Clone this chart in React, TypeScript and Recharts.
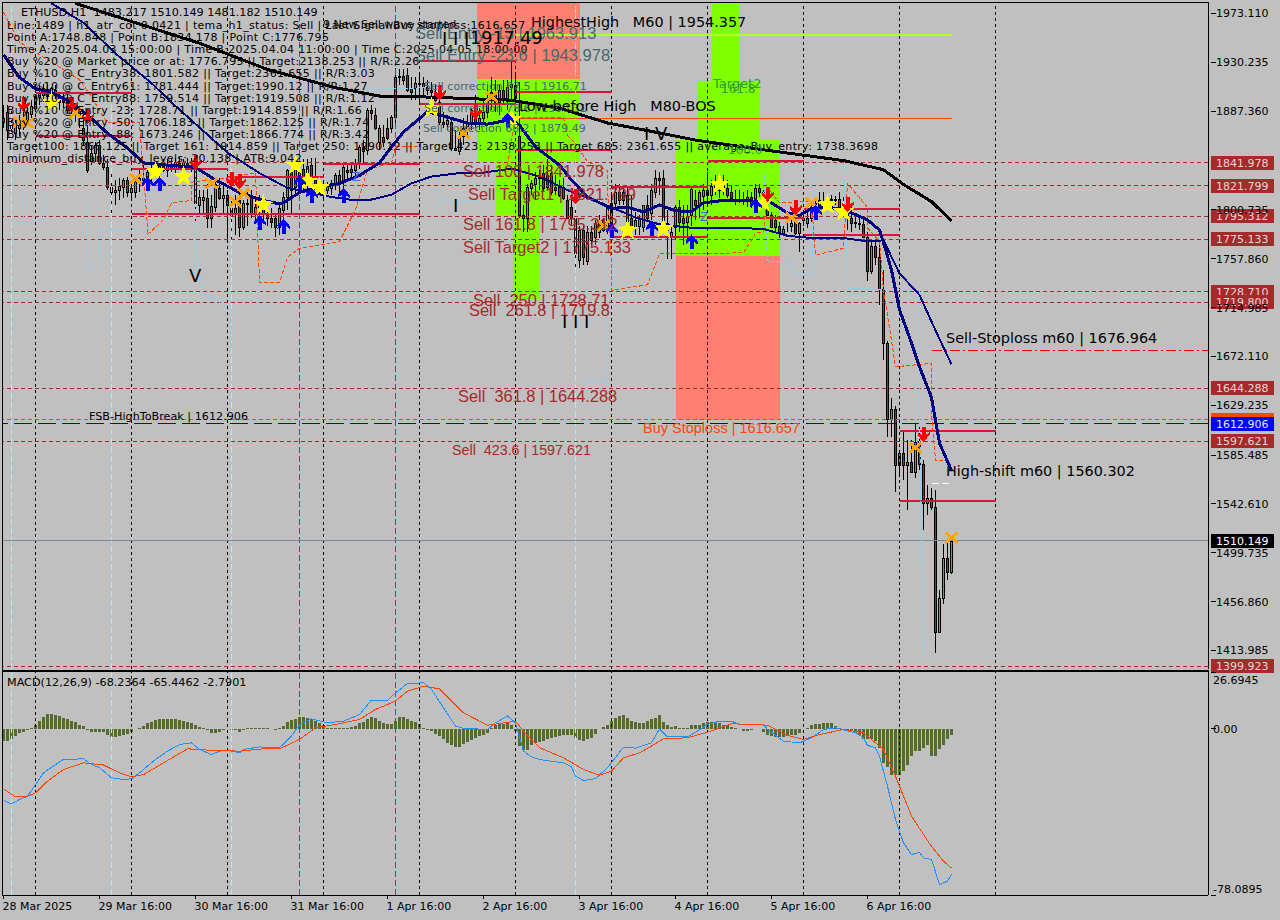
import React from "react";
import { Bar, ComposedChart, Line, ReferenceArea, ReferenceLine, Scatter, XAxis, YAxis } from "recharts";

// ETHUSD H1 candles, one entry per bar
const opens = [
  1881,1887,1873,1868,1873,1875,1880,1885,1890,1900,
  1902,1906,1901,1906,1902,1895,1895,1888,1890,1885,
  1873,1860,1844,1851,1858,1842,1838,1821,1816,1818,
  1821,1827,1816,1816,1827,1829,1829,1834,1837,1835,
  1839,1836,1840,1837,1842,1839,1842,1839,1837,1805,
  1809,1811,1794,1803,1820,1811,1814,1802,1797,1809,
  1786,1807,1812,1798,1803,1808,1797,1794,1794,1786,
  1801,1812,1836,1821,1821,1837,1839,1840,1827,1821,
  1820,1818,1820,1823,1831,1825,1836,1837,1836,1842,
  1856,1853,1888,1884,1860,1865,1873,1873,1882,1917,
  1918,1919,1908,1908,1911,1912,1909,1906,1904,1895,
  1878,1876,1878,1855,1852,1866,1873,1878,1888,1877,
  1881,1887,1899,1904,1895,1906,1899,1909,1910,1866,
  1796,1794,1820,1823,1829,1833,1831,1833,1821,1821,
  1821,1809,1803,1794,1757,1783,1756,1781,1777,1789,
  1783,1783,1789,1807,1816,1816,1814,1794,1786,1787,
  1786,1805,1798,1816,1829,1829,1789,1777,1786,1803,
  1794,1790,1796,1809,1806,1813,1818,1814,1822,1818,
  1824,1820,1816,1810,1810,1809,1809,1812,1811,1820,
  1812,1802,1796,1792,1787,1780,1785,1787,1790,1780,
  1792,1789,1794,1801,1805,1809,1809,1809,1809,1810,
  1805,1803,1794,1790,1789,1788,1777,1747,1769,1759,
  1731,1684,1617,1626,1577,1587,1577,1579,1571,1597,
  1578,1543,1548,1540,1430,1460,1495,1483.217,
];
const highs = [
  1893,1893,1888,1880,1884,1890,1893,1897,1902,1910,
  1911,1911,1909,1910,1904,1904,1902,1897,1893,1892,
  1887,1875,1858,1860,1862,1849,1845,1834,1827,1829,
  1829,1830,1827,1827,1836,1840,1837,1842,1843,1842,
  1845,1845,1846,1846,1847,1845,1846,1846,1840,1818,
  1818,1823,1814,1825,1829,1823,1818,1814,1814,1818,
  1809,1816,1818,1811,1814,1814,1805,1802,1796,1805,
  1816,1837,1840,1845,1846,1845,1845,1846,1846,1827,
  1824,1825,1827,1833,1836,1840,1840,1842,1845,1858,
  1862,1890,1893,1890,1875,1875,1881,1884,1925,1924,
  1924,1925,1917,1917,1919,1917,1915,1913,1910,1908,
  1887,1884,1880,1871,1873,1881,1884,1890,1902,1890,
  1897,1910,1917,1915,1910,1915,1915,1932,1919,1913,
  1805,1823,1827,1834,1836,1840,1845,1840,1831,1827,
  1829,1814,1814,1809,1787,1787,1787,1787,1792,1796,
  1794,1805,1814,1823,1823,1820,1820,1814,1799,1796,
  1805,1814,1823,1836,1834,1836,1801,1787,1805,1809,
  1805,1805,1820,1818,1818,1823,1834,1827,1831,1829,
  1831,1827,1822,1818,1818,1816,1818,1816,1823,1823,
  1818,1814,1799,1796,1790,1787,1790,1792,1794,1790,
  1799,1799,1805,1809,1816,1816,1814,1814,1813,1816,
  1812,1809,1805,1796,1794,1795,1781,1774,1774,1774,
  1748,1686,1636,1629,1590,1607,1599,1599,1614,1614,
  1581,1559,1557,1555,1467,1507,1511,1510.149,
];
const lows = [
  1873,1862,1866,1862,1866,1871,1875,1880,1887,1893,
  1895,1897,1894,1897,1888,1890,1885,1881,1878,1873,
  1858,1833,1840,1843,1840,1836,1818,1796,1805,1809,
  1811,1812,1811,1811,1816,1823,1823,1825,1831,1830,
  1834,1830,1834,1831,1836,1834,1836,1834,1789,1796,
  1796,1785,1785,1799,1809,1796,1774,1774,1779,1777,
  1783,1787,1794,1792,1796,1792,1787,1785,1777,1779,
  1787,1801,1798,1814,1816,1818,1818,1818,1818,1815,
  1811,1815,1814,1818,1816,1818,1827,1829,1831,1837,
  1842,1849,1880,1871,1853,1856,1862,1868,1875,1910,
  1910,1904,1897,1897,1895,1902,1902,1893,1895,1875,
  1873,1871,1852,1852,1849,1858,1866,1871,1873,1871,
  1875,1881,1888,1887,1884,1893,1888,1897,1895,1794,
  1781,1781,1814,1809,1818,1816,1818,1814,1814,1812,
  1809,1794,1787,1748,1750,1752,1752,1770,1770,1776,
  1781,1779,1787,1801,1805,1805,1781,1779,1779,1779,
  1781,1792,1792,1811,1814,1785,1758,1758,1774,1781,
  1770,1774,1787,1792,1794,1801,1809,1805,1814,1811,
  1814,1811,1809,1805,1807,1805,1803,1802,1809,1812,
  1807,1796,1785,1781,1776,1779,1781,1781,1779,1764,
  1787,1785,1790,1794,1801,1805,1801,1805,1805,1799,
  1796,1783,1781,1785,1783,1777,1738,1744,1752,1717,
  1669,1601,1601,1553,1568,1564,1537,1571,1565,1572,
  1520,1533,1537,1412,1430,1455,1476,1481.182,
];
const closes = [
  1878,1871,1875,1875,1878,1881,1887,1892,1901,1904,
  1908,1901,1908,1902,1895,1897,1888,1892,1885,1888,
  1862,1836,1851,1858,1842,1838,1821,1816,1818,1822,
  1827,1816,1820,1826,1829,1827,1834,1837,1834,1839,
  1836,1840,1837,1843,1839,1843,1840,1837,1807,1812,
  1812,1794,1804,1823,1811,1814,1805,1796,1802,1786,
  1807,1806,1798,1803,1809,1797,1794,1790,1786,1802,
  1812,1836,1818,1840,1836,1823,1823,1827,1823,1823,
  1821,1822,1823,1831,1823,1838,1834,1834,1842,1856,
  1852,1888,1886,1873,1873,1860,1864,1882,1917,1918,
  1915,1906,1904,1912,1912,1909,1906,1904,1897,1878,
  1876,1880,1855,1853,1866,1873,1878,1888,1877,1881,
  1887,1899,1904,1895,1906,1899,1909,1911,1899,1796,
  1794,1821,1824,1829,1830,1820,1821,1816,1818,1814,
  1811,1794,1794,1763,1783,1759,1781,1774,1789,1781,
  1792,1802,1807,1816,1809,1809,1786,1786,1792,1794,
  1805,1794,1818,1829,1827,1787,1783,1781,1803,1790,
  1789,1795,1819,1805,1816,1818,1814,1822,1818,1824,
  1820,1814,1811,1809,1809,1809,1812,1807,1820,1816,
  1816,1796,1786,1786,1780,1784,1785,1789,1780,1789,
  1794,1794,1801,1807,1809,1809,1809,1810,1810,1802,
  1803,1796,1789,1789,1788,1777,1747,1769,1759,1731,
  1684,1617,1626,1577,1587,1577,1579,1571,1597,1578,
  1543,1548,1540,1430,1460,1495,1483,1510.149,
];

// MACD histogram, one entry per bar
const histogram = [
  -5.8,-5.8,-4.7,-3.4,-2.2,-1.6,-0.6,0.4,1.8,3.8,
  5.5,7,7,6.5,6,5.2,4.4,3.6,3.1,2,
  1.2,-0.4,-1.6,-1.4,-1.6,-1.5,-3,-4,-4,-3.5,
  -3,-2.3,-1.6,-0.3,0.5,1.2,2.5,3.3,4,4.5,
  4.7,4.7,4.7,4.6,4.2,3.6,3.1,2.6,1.8,1,
  0.4,-0.6,-2,-2.2,-1.3,-0.5,-0.3,-0.4,-0.5,-1.6,
  -0.5,0.5,0.6,0.5,0.5,0.4,0.4,0,-0.6,0.2,
  1.5,3,4,4.8,5.4,5.6,5.2,4.8,3.8,2.8,
  1.8,0.3,0.3,0.3,0.4,0.5,0.6,0.8,1.5,2.5,
  3.3,4.5,5.6,5,3.8,2.8,2.4,2.4,3.8,5.4,
  5.6,4.8,3.8,3,2.2,0.6,-0.4,-1,-2.4,-3.5,
  -5,-6.5,-7.8,-8.6,-8.4,-7,-6,-5.2,-4.2,-3.4,
  -3,-2,0.6,2,2.2,2.4,3,2,-1,-8,
  -10,-10,-7.4,-6.8,-6.2,-5.8,-4.7,-4.4,-4,-3.4,
  -2.7,-2.9,-3.1,-4.4,-5.3,-5.8,-5,-4.2,-2.5,-0.3,
  1,2,3.8,5.2,5.8,6.3,5,3.6,3.1,2.8,
  2.8,3.6,4.7,5.2,6.3,3.1,1.6,0.8,1.2,0.2,
  0.2,0.5,2,2,2,2.8,3.3,3.4,3.1,2.8,
  2,1.6,0.8,0.2,-0.3,-0.8,-0.8,-0.6,-0.3,-0.3,
  -1.6,-3.1,-3.4,-4,-4,-4,-3.4,-3.1,-2.7,-1.9,
  -0.3,0.5,1.6,2.4,2.4,2.5,2.5,2.5,1.2,0.5,
  0,-0.6,-1.1,-1.9,-2.7,-5,-4.7,-5,-5.8,-9,
  -16,-18,-21.8,-21.8,-21.5,-19.6,-17.2,-12.9,-10.5,-10.5,
  -8.9,-7.4,-12.9,-12.9,-9.7,-7.4,-5,-2.79,
];

// line vertices: bar number + value
const macdBars = [0,2,4,6,8,10,13,15,20,22,24,27,30,32,34,38,41,44,47,49,52,54,56,59,60,64,67,69,72,74,77,81,85,89,92,96,98,101,105,107,110,113,115,121,123,126,128,130,132,134,140,142,143,145,148,151,155,158,162,164,166,171,173,176,179,182,184,190,191,195,199,202,205,208,213,215,216,218,219,221,223,225,227,229,230,232,234,236,237];
const macdValues = [-33.7,-35.3,-33.2,-31.7,-26.2,-20.7,-16.8,-14.4,-14.1,-16.8,-18.3,-23,-23.8,-23.5,-20.7,-14.4,-10.5,-7.4,-6.6,-9.7,-12.1,-10.5,-10,-11.3,-9.7,-8.5,-8.9,-8.9,-3.4,2,4.7,2.8,3.6,6.7,13.5,13.3,16.9,21.3,21.6,18.5,9.9,1.3,0.2,-0.3,2.8,6,2.8,-10.5,-13.2,-14.4,-16,-17.9,-22.3,-24.3,-23.4,-18.3,-8.6,-9.1,-6.6,0,-3.8,-3.8,-1.6,2,3.6,3.6,2,2,-0.3,-5.8,-6.6,-4.2,-0.3,0.5,-1.9,-4.2,-7.8,-8.9,-12.9,-27,-42.6,-53.6,-59.1,-58,-60.7,-61.4,-73.2,-71.6,-68.2364];
const signalBars = [0,3,6,8,11,15,20,25,29,32,35,40,46,51,59,65,69,74,78,84,89,93,98,101,105,109,115,121,128,130,134,140,145,149,152,155,159,162,165,171,176,182,191,196,200,204,210,215,220,223,227,230,232,235,237];
const signalValues = [-28.2,-32,-31.7,-30.1,-24.6,-19.1,-16,-17,-20.7,-22.6,-21.5,-16,-9.4,-10,-10.5,-9.4,-9.4,-5,0.5,2.4,4.4,9.1,13,17.7,20,18.8,7.5,1.7,3.6,-1.1,-8.9,-13.6,-19.1,-21.8,-19.9,-13.6,-11.3,-8.1,-4.7,-4.2,-1.6,2.4,1.7,-3.1,-5,-2.7,-0.3,-1.9,-9.7,-22.3,-41,-49.7,-55.2,-62.2,-65.4462];

const emaFastBars = [0,4,8,12,17,21,26,31,35,41,48,53,59,65,69,70,74,79,84,89,94,97,100,106,111,116,121,127,129,133,139,142,146,152,156,160,164,168,172,175,180,187,191,196,199,202,206,210,216,219,220,222,224,227,229,232,233,234,237];
const emaFastValues = [1937,1917,1907,1904,1895,1884,1868,1855,1842,1840,1838,1827,1816,1809,1806,1807,1816,1821,1824,1831,1842,1856,1869,1887,1882,1877,1876,1880,1875,1856,1840,1827,1812,1802,1803,1799,1805,1800,1799,1807,1809,1809,1809,1798,1796,1802,1803,1801,1792,1783,1772,1748,1713,1684,1663,1636,1616,1596,1572];
const emaSlowBars = [12,20,28,37,42,49,56,64,71,77,82,88,91,97,102,107,114,119,127,134,141,152,158,164,172,182,190,196,202,210,216,220,224,229,233,237];
const emaSlowValues = [1982,1965,1938,1912,1895,1873,1851,1833,1820,1816,1812,1809,1809,1814,1824,1830,1833,1833,1837,1830,1818,1803,1794,1788,1785,1785,1784,1778,1776,1776,1773,1774,1745,1726,1695,1665];
const trendBars = [18,33,49,66,83,95,104,127,139,151,160,173,191,210,220,225,232,237];
const trendValues = [1982,1965,1947,1924,1908,1900,1900,1897,1890,1877,1871,1862,1853,1844,1836,1823,1808,1791];

const bandBars = [0,4,19,22,24,26,34,36,36,40,42,47,47,52,63,64,69,71,74,84,88,91,97,98,104,104,126,128,140,141,143,146,151,151,152,152,161,164,185,188,190,191,194,202,203,210,211,216,216,219,220,222,223,232,232,233,236];
const bandValues = [1974,1948,1915,1900,1888,1877,1877,1786,1779,1792,1807,1809,1825,1827,1833,1737,1737,1759,1767,1773,1801,1836,1842,1856,1856,null,1840,1882,1882,1866,1859,1843,1835,1822,1752,1730,1735,1762,1763,1780,1782,1820,1807,1808,1761,1767,1824,1803,1785,1773,1730,1686,1663,1666,1622,1581,1581];
const shadowBars = [5,5,10,10,10,21,21,24,24,25,36,36,36,48,48,50,57,57,57,64,64,64,85,85,107,107,109,109,119,119,143,143,143,145,151,151,151,190,190,191,197,198,202,203,203,210,211,229,229,230];
const shadowValues = [1838,1790,1792,1847,null,1809,1750,1750,1774,1783,1783,1827,null,1838,1751,1728,1713,1678,null,1735,1713,null,1896,1906,1908,null,1873,1808,1808,null,1980,1840,null,1650,1650,1739,1840,null,1842,1756,1755,1744,1745,1853,null,1842,1732,1730,1622,1408];

const stars = [[12,1895],[38,1834],[45,1830],[65,1805],[73,1840],[76,1826],[79,1820],[107,1890],[127,1880],[156,1783],[165,1784],[179,1823],[190,1807],[206,1805],[210,1799]];
const crosses = [[4,1878],[6,1877],[18,1886],[33,1828],[52,1824],[60,1815],[58,1808],[115,1868],[122,1900],[150,1787],[197,1794],[202,1807],[228,1592],[237,1513]];
const sellArrows = [[5,1893],[17,1893],[21,1882],[48,1842],[57,1827],[59,1825],[109,1903],[118,1886],[143,1812],[191,1814],[198,1802],[211,1805],[230,1603]];
const buyArrows = [[36,1824],[39,1824],[64,1790],[70,1787],[77,1814],[85,1814],[74,1825],[126,1880],[152,1783],[162,1785],[172,1773],[188,1805],[203,1799]];

// period high/low segments: from bar, to bar, price
const segments = [[8,32,1903],[8,32,1866],[32,56,1837],[32,104,1797],[56,80,1830],[80,104,1841],[104,128,1931],[104,128,1894],[128,152,1904],[128,152,1853],[152,176,1821],[152,176,1777],[176,200,1844],[176,200,1794],[200,224,1801.5],[200,224,1779],[224,248,1607],[224,248,1545]];

const salmonZones = [[118.25,144,1916,1985],[168,194,1616.657,1760]];
const limeZones = [[118.25,144,1844,1916],[123,140,1796,1844],[127.25,134,1722,1796],[177,184,1914,1985],[173.25,189,1862,1914],[168,194,1760,1862]];

const priceTicks = [1973.11,1930.235,1887.36,1800.735,1757.86,1714.985,1672.11,1629.235,1585.485,1542.61,1499.735,1456.86,1413.985];
const sellLevels = [1841.978,1821.799,1795.312,1775.133,1728.71,1719.8,1644.288,1597.621,1399.923];
const macdTicks = [26.6945,0,-78.0895];
const timeBars = [0,24,48,72,96,120,144,168,192,216];
const timeLabels = ["28 Mar 2025","29 Mar 16:00","30 Mar 16:00","31 Mar 16:00","1 Apr 16:00","2 Apr 16:00","3 Apr 16:00","4 Apr 16:00","5 Apr 16:00","6 Apr 16:00"];
const gridBars = [8,32,56,80,104,128,152,176,200,224,248];
const magentaBars = [74,98];
const paleBars = [2,27,57,143];

const infoLines = [
  "Line:1489 | h1_atr_cot 0.0421 | tema_h1_status: Sell | Last Signal:Buy stoploss:1616.657",
  "Point A:1748.848 | Point B:1834.178 | Point C:1776.795",
  "Time A:2025.04.03 15:00:00 | Time B:2025.04.04 11:00:00 | Time C:2025.04.05 18:00:00",
  "Buy %20 @ Market price or at: 1776.795 || Target:2138.253 || R/R:2.26",
  "Buy %10 @ C_Entry38: 1801.582 || Target:2361.655 || R/R:3.03",
  "Buy %10 @ C_Entry61: 1781.444 || Target:1990.12 || R/R:1.27",
  "Buy %10 @ C_Entry88: 1759.514 || Target:1919.508 || R/R:1.12",
  "Buy %10 @ Entry -23: 1728.71 || Target:1914.859 || R/R:1.66",
  "Buy %20 @ Entry -50: 1706.183 || Target:1862.125 || R/R:1.74",
  "Buy %20 @ Entry -88: 1673.246 || Target:1866.774 || R/R:3.42",
  "Target100: 1866.125 || Target 161: 1914.859 || Target 250: 1990.12 || Target 423: 2138.253 || Target 685: 2361.655 || average_Buy_entry: 1738.3698",
  "minimum_distance_buy_levels: 20.138 | ATR:9.042",
];

const TAHOMA = "'DejaVu Sans'";
const ARIAL = "'Liberation Sans'";
const BROWN = "#a52a2a";
const SLATE = "#47686b";

// text, left, middle, size, colour, font
const notes: [string, number, number, number, string, string][] = [
  ["ETHUSD,H1  1483.217 1510.149 1481.182 1510.149", 21, 12, 11.2, "#000", TAHOMA],
  ["9 New Sell wave started", 323, 24, 11, "#000", TAHOMA],
  ["Sell Entry -13 | 1963.913", 415, 33, 16.5, SLATE, ARIAL],
  ["Sell Entry -23.6 | 1943.978", 415, 55, 16.5, SLATE, ARIAL],
  ["I I I", 442, 38, 18, "#000", TAHOMA],
  ["1917.49", 470, 38, 17.6, "#000", TAHOMA],
  ["HighestHigh   M60 | 1954.357", 531, 22, 14.4, "#000", TAHOMA],
  ["Sell correction 87.5 | 1916.71", 424, 86, 11, SLATE, TAHOMA],
  ["Sell correction 78.6 | 1900.31", 424, 108, 11, SLATE, TAHOMA],
  ["Sell correction 68.2 | 1879.49", 423, 128, 11, SLATE, TAHOMA],
  ["Low-before High   M80-BOS", 519, 106, 14.4, "#000", TAHOMA],
  ["Target2", 713, 83, 13, "#2e9e2e", TAHOMA],
  ["161.8", 721, 89, 12, "#2e9e2e", TAHOMA],
  ["100.0", 728, 150, 12, "#2e9e2e", TAHOMA],
  ["Z", 352, 177, 12, "#4169e1", TAHOMA],
  ["Z", 700, 217, 12, "#4169e1", TAHOMA],
  ["Sell 100 | 1841.978", 463, 171, 16.4, BROWN, ARIAL],
  ["Sell Target1 | 1821.799", 468, 194, 16.4, BROWN, ARIAL],
  ["Sell 161.8 | 1795.312", 463, 224, 16.4, BROWN, ARIAL],
  ["Sell Target2 | 1775.133", 463, 247, 16.4, BROWN, ARIAL],
  ["Sell  250 | 1728.71", 473, 300, 16.4, BROWN, ARIAL],
  ["Sell  261.8 | 1719.8", 469, 310, 16.4, BROWN, ARIAL],
  ["Sell  361.8 | 1644.288", 458, 396, 16.4, BROWN, ARIAL],
  ["Sell  423.6 | 1597.621", 452, 450, 14.3, BROWN, ARIAL],
  ["Buy Stoploss | 1616.657", 643, 428, 14.5, "#ff4500", ARIAL],
  ["FSB-HighToBreak | 1612.906", 89, 416, 11.2, "#000", TAHOMA],
  ["Sell-Stoploss m60 | 1676.964", 946, 338, 14.4, "#000", TAHOMA],
  ["High-shift m60 | 1560.302", 946, 471, 14.4, "#000", TAHOMA],
  ["V", 189, 275, 18, "#000", TAHOMA],
  ["I", 453, 205, 18, "#000", TAHOMA],
  ["I I I", 562, 321, 18, "#000", TAHOMA],
  ["I V", 644, 133, 18, "#000", TAHOMA],
  ["MACD(12,26,9) -68.2364 -65.4462 -2.7901", 7, 682, 11.2, "#000", TAHOMA],
];

const rows = opens.map((o, i) => ({ i, o, h: highs[i], l: lows[i], c: closes[i], m: histogram[i] }));
const vertices = (bars: number[], values: (number | null)[]) => bars.map((i, k) => ({ i, v: values[k] }));
const marks = (list: number[][]) => list.map(([i, v]) => ({ i, v }));

const X_DOMAIN: [number, number] = [-0.375, 301.125];
const PRICE_DOMAIN: [number, number] = [1397.7, 1983.2];

function Candle(props: any) {
  const { x, y, width, height, payload } = props;
  const { o, h, l, c } = payload;
  const at = (p: number) => y + ((h - p) / (h - l)) * height;
  const mid = Math.floor(x + width / 2) + 0.5;
  const top = Math.round(at(Math.max(o, c))) + 0.5;
  const bottom = Math.round(at(Math.min(o, c))) + 0.5;
  return (
    <g>
      <line x1={mid} x2={mid} y1={y} y2={y + height} stroke="#000" />
      <rect x={mid - 1} y={top} width={2} height={Math.max(bottom - top, 0)} fill={c >= o ? "#3cb371" : "#c8143c"} stroke="#000" />
    </g>
  );
}

function Star({ cx, cy }: any) {
  const pts = [];
  for (let k = 0; k < 10; k++) {
    const r = k % 2 ? 4.5 : 11;
    const a = (Math.PI * k) / 5 - Math.PI / 2;
    pts.push(`${cx + r * Math.cos(a)},${cy + r * Math.sin(a)}`);
  }
  return <polygon points={pts.join(" ")} fill="#ffff00" />;
}

function Cross({ cx, cy }: any) {
  return (
    <g stroke="#ffa500" strokeWidth={3}>
      <line x1={cx - 6} x2={cx + 6} y1={cy - 5} y2={cy + 5} />
      <line x1={cx - 6} x2={cx + 6} y1={cy + 5} y2={cy - 5} />
    </g>
  );
}

function DownArrow({ cx, cy }: any) {
  return <path d={`M${cx - 2},${cy - 8}h4v8l4,-3v3l-6,7l-6,-7v-3l4,3z`} fill="#ff0000" />;
}

function UpArrow({ cx, cy }: any) {
  return <path d={`M${cx - 2},${cy + 8}h4v-8l4,3v-3l-6,-7l-6,7v3l4,-3z`} fill="#0000ff" />;
}

function PriceTick({ x, y, payload }: any) {
  return (
    <g>
      <line x1={x - 5} x2={x} y1={y} y2={y} stroke="#000" />
      <text x={1216} y={y + 4} fontFamily={TAHOMA} fontSize={11} fill="#000">{payload.value.toFixed(3)}</text>
    </g>
  );
}

function MacdTick({ x, y, payload }: any) {
  const v = payload.value;
  const shift = v > 1 ? 8 : v < -1 ? -6 : 0;
  return (
    <g>
      <line x1={x - 5} x2={x} y1={y} y2={y} stroke="#000" />
      <text x={1213} y={y + 4 + shift} fontFamily={TAHOMA} fontSize={11} fill="#000">
        {v === 0 ? "0.00" : v.toFixed(4)}
      </text>
    </g>
  );
}

function TimeTick({ x, y, payload }: any) {
  return (
    <g>
      <line x1={x} x2={x} y1={y - 8} y2={y - 4} stroke="#000" />
      <text x={x - 1} y={y + 7} fontFamily={TAHOMA} fontSize={11} fill="#000">
        {timeLabels[timeBars.indexOf(payload.value)]}
      </text>
    </g>
  );
}

const priceTag = (value: number, fill: string, color: string) => (p: any) => (
  <g>
    <rect x={1211} y={p.viewBox.y - 7} width={63} height={14} fill={fill} />
    <text x={1216} y={p.viewBox.y + 4} fontFamily={TAHOMA} fontSize={11} fill={color}>{value.toFixed(3)}</text>
  </g>
);

export default function App() {
  return (
    <div style={{ position: "absolute", left: 0, top: 0, width: 1280, height: 920, background: "#c0c0c0", overflow: "hidden", shapeRendering: "crispEdges" }}>
      <div style={{ position: "absolute", left: 0, top: 0 }}>
        <ComposedChart width={1280} height={680} data={rows} margin={{ top: 2, right: 0, bottom: 11, left: 2 }}>
          <XAxis dataKey="i" type="number" domain={X_DOMAIN} hide allowDataOverflow />
          <YAxis orientation="right" width={72} domain={PRICE_DOMAIN} ticks={priceTicks} tick={PriceTick} tickLine={false} interval={0} axisLine={{ stroke: "#000" }} allowDataOverflow />
          {salmonZones.map(([a, b, lo, hi], k) => (
            <ReferenceArea key={`s${k}`} x1={a} x2={b} y1={lo} y2={hi} fill="#ff8070" fillOpacity={1} stroke="none" ifOverflow="hidden" />
          ))}
          {limeZones.map(([a, b, lo, hi], k) => (
            <ReferenceArea key={`l${k}`} x1={a} x2={b} y1={lo} y2={hi} fill="#7fff00" fillOpacity={1} stroke="none" ifOverflow="hidden" />
          ))}
          {paleBars.map((b) => <ReferenceLine key={`p${b}`} x={b} stroke="#afeeee" strokeDasharray="6 3" />)}
          {gridBars.map((b) => <ReferenceLine key={`g${b}`} x={b} stroke="#000" strokeDasharray="3 3" />)}
          {magentaBars.map((b) => <ReferenceLine key={`m${b}`} x={b} stroke="#c71585" strokeDasharray="6 3" />)}
          {sellLevels.map((v) => (
            <ReferenceLine key={`v${v}`} y={v} stroke={BROWN} strokeDasharray="4 3" label={priceTag(v, BROWN, "#e6d8d8")} />
          ))}
          <ReferenceLine y={1616.657} stroke="#ff4500" strokeDasharray="4 3" label={priceTag(1616.657, "#ff4500", "#ff4500")} />
          <ReferenceLine y={1612.906} stroke="#0000cd" strokeDasharray="18 6" label={priceTag(1612.906, "#0000ff", "#e6e6ff")} />
          <ReferenceLine y={1510.149} stroke="#778899" label={priceTag(1510.149, "#000", "#fff")} />
          <ReferenceLine segment={[{ x: 128, y: 1954.357 }, { x: 237, y: 1954.357 }]} stroke="#adff2f" strokeWidth={1.5} />
          <ReferenceLine segment={[{ x: 128, y: 1881 }, { x: 237, y: 1881 }]} stroke="#ff4500" strokeWidth={1.5} />
          <ReferenceLine segment={[{ x: 232, y: 1676.964 }, { x: 301, y: 1676.964 }]} stroke="#ff0000" strokeDasharray="10 3 2 3" />
          <ReferenceLine segment={[{ x: 232, y: 1560.302 }, { x: 237, y: 1560.302 }]} stroke="#ffffff" strokeDasharray="7 3" />
          {segments.map(([a, b, p], k) => (
            <ReferenceLine key={`r${k}`} segment={[{ x: a, y: p }, { x: b, y: p }]} stroke="#dc143c" strokeWidth={2} />
          ))}
          <Line data={vertices(shadowBars, shadowValues)} dataKey="v" stroke="#87cefa" strokeWidth={1} strokeDasharray="4 2" dot={false} isAnimationActive={false} />
          <Line data={vertices(bandBars, bandValues)} dataKey="v" stroke="#ff4500" strokeWidth={1} strokeDasharray="4 2" dot={false} isAnimationActive={false} />
          <Bar dataKey={(d: any) => [d.l, d.h]} barSize={3} shape={Candle} isAnimationActive={false} />
          <Line data={vertices(trendBars, trendValues)} dataKey="v" stroke="#000" strokeWidth={3} dot={false} isAnimationActive={false} />
          <Line data={vertices(emaSlowBars, emaSlowValues)} dataKey="v" stroke="#000080" strokeWidth={2} dot={false} isAnimationActive={false} />
          <Line data={vertices(emaFastBars, emaFastValues)} dataKey="v" stroke="#000080" strokeWidth={3} dot={false} isAnimationActive={false} />
          <Scatter data={marks(stars)} dataKey="v" shape={Star} isAnimationActive={false} />
          <Scatter data={marks(crosses)} dataKey="v" shape={Cross} isAnimationActive={false} />
          <Scatter data={marks(sellArrows)} dataKey="v" shape={DownArrow} isAnimationActive={false} />
          <Scatter data={marks(buyArrows)} dataKey="v" shape={UpArrow} isAnimationActive={false} />
        </ComposedChart>
      </div>

      <div style={{ position: "absolute", left: 0, top: 671 }}>
        <ComposedChart width={1280} height={249} data={rows} margin={{ top: 1, right: 0, bottom: 0, left: 2 }}>
          <XAxis dataKey="i" type="number" domain={X_DOMAIN} ticks={timeBars} tick={TimeTick} tickLine={false} interval={0} height={25} axisLine={{ stroke: "#000" }} allowDataOverflow />
          <YAxis orientation="right" width={72} domain={[-78.0895, 26.6945]} ticks={macdTicks} tick={MacdTick} tickLine={false} interval={0} axisLine={{ stroke: "#000" }} allowDataOverflow />
          {gridBars.map((b) => <ReferenceLine key={`g${b}`} x={b} stroke="#000" strokeDasharray="3 3" />)}
          {magentaBars.map((b) => <ReferenceLine key={`m${b}`} x={b} stroke="#c71585" strokeDasharray="6 3" />)}
          {paleBars.map((b) => <ReferenceLine key={`p${b}`} x={b} stroke="#afeeee" strokeDasharray="6 3" />)}
          <Bar dataKey="m" fill="#556b2f" barSize={3} isAnimationActive={false} />
          <Line data={vertices(macdBars, macdValues)} dataKey="v" stroke="#1e90ff" strokeWidth={1} dot={false} isAnimationActive={false} />
          <Line data={vertices(signalBars, signalValues)} dataKey="v" stroke="#ff4500" strokeWidth={1} dot={false} isAnimationActive={false} />
        </ComposedChart>
      </div>

      {/* window frames */}
      <div style={{ position: "absolute", left: 2, top: 2, width: 1206, height: 667, borderLeft: "1px solid #000", borderTop: "1px solid #000", borderBottom: "1px solid #000", pointerEvents: "none" }} />
      <div style={{ position: "absolute", left: 2, top: 671, width: 1206, height: 224, borderLeft: "1px solid #000", borderTop: "1px solid #000", pointerEvents: "none" }} />

      {infoLines.map((t, k) => (
        <div key={k} style={{ position: "absolute", left: 7, top: 25 + k * 12.1, transform: "translateY(-50%)", font: `11px ${TAHOMA}`, letterSpacing: 0.32, whiteSpace: "pre", color: "#000" }}>{t}</div>
      ))}
      {notes.map(([t, x, y, size, color, font], k) => (
        <div key={k} style={{ position: "absolute", left: x, top: y, transform: "translateY(-50%)", font: `${size}px ${font}`, whiteSpace: "pre", color }}>{t}</div>
      ))}
    </div>
  );
}
